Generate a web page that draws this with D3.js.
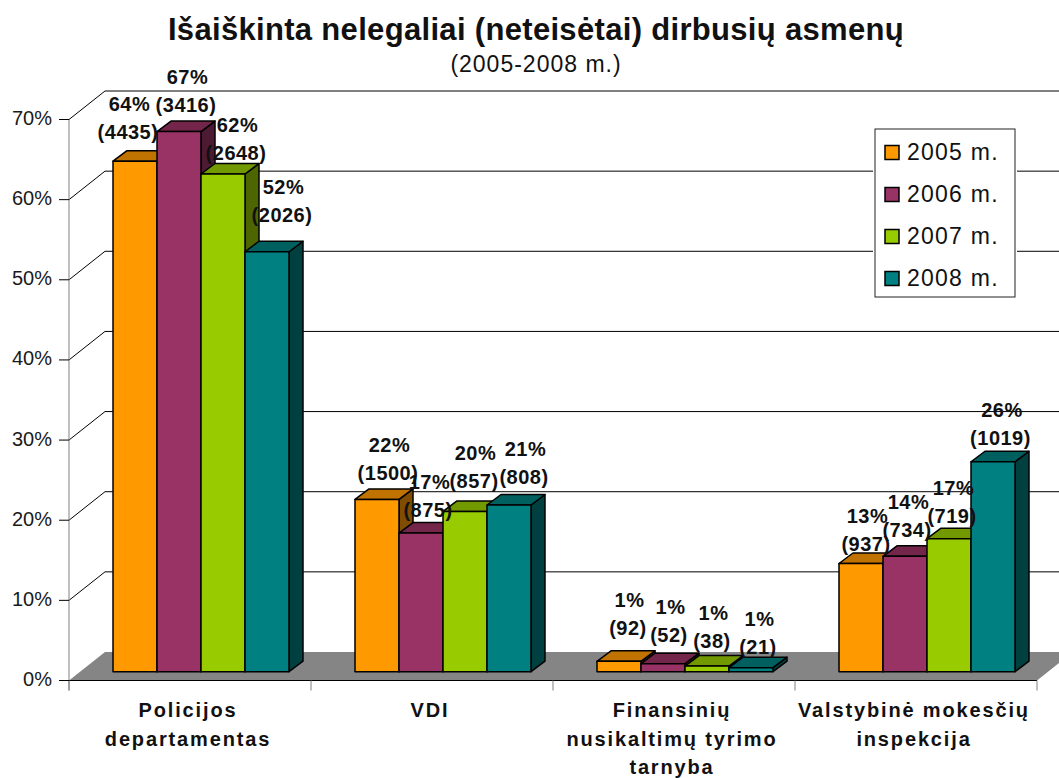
<!DOCTYPE html>
<html><head><meta charset="utf-8">
<style>html,body{margin:0;background:#fff;overflow:hidden}svg{display:block;font-family:"Liberation Sans",Arial,sans-serif}</style>
<script src="https://cdn.jsdelivr.net/npm/d3@7"></script></head><body>
<script>
const categories = [["Policijos","departamentas"],["VDI"],["Finansinių","nusikaltimų tyrimo","tarnyba"],["Valstybinė mokesčių","inspekcija"]];
const seriesNames = ["2005 m.","2006 m.","2007 m.","2008 m."];
const pct = [[63.7,67.4,62.1,52.4],[21.5,17.3,20.0,20.8],[1.3,1.0,0.7,0.5],[13.5,14.4,16.6,26.2]];
const pctLabels = [["64%","67%","62%","52%"],["22%","17%","20%","21%"],["1%","1%","1%","1%"],["13%","14%","17%","26%"]];
const countLabels = [["(4435)","(3416)","(2648)","(2026)"],["(1500)","(875)","(857)","(808)"],["(92)","(52)","(38)","(21)"],["(937)","(734)","(719)","(1019)"]];
const yTicks = [0,10,20,30,40,50,60,70];
// label placement nudges from each bar's top centre
const nudgeX = [[-7,7,13,15],[11,7,9,15],[9,6,5,7],[5,2,3,7.5]];
const nudgeY = [[-22,-20,-14,-30],[-19,-16,-23,-21],[-26,-22,-18,-14],[-13,-19,-16,-17]];
const colors = ["#FF9900","#993366","#99CC00","#008080"];
const topColors = ["#C07300","#732649","#739900","#006060"];
const sideColors = ["#804D00","#4D1A33","#4D6600","#004040"];

const W=1059,H=778,x0=69,x1=1037,y0=680.5,yTop=119.5;
const depthX=36,depthY=28.5, barDX=14,barDY=10.5;
const barBaseY=671.7;
const svg=d3.select("body").append("svg").attr("width",W).attr("height",H);
const y=d3.scaleLinear().domain([0,70]).range([y0,yTop]);
const xBand=d3.scaleBand().domain(d3.range(categories.length)).range([x0,x1]);
const barH=v=>y(0)-y(v);
const inner=d3.scaleBand().domain(d3.range(4)).range([44,220]);

svg.append("path").attr("fill","#858585")
 .attr("d",d3.line()([[x0,y0],[x0+depthX,y0-depthY],[x1+depthX,y0-depthY],[x1,y0]])+"Z");
const g=svg.append("g").attr("fill","none").attr("stroke","#000").attr("stroke-width",1);
yTicks.filter(t=>t>0).forEach(t=>{
  g.append("line").attr("x1",x0+depthX).attr("x2",W).attr("y1",y(t)-depthY).attr("y2",y(t)-depthY);
  g.append("line").attr("x1",x0).attr("x2",x0+depthX).attr("y1",y(t)).attr("y2",y(t)-depthY);
});
pct.forEach((row,c)=>{
  row.forEach((v,s)=>{
    const l=xBand(c)+inner(s), w=inner.bandwidth(), b=barBaseY, t=b-barH(v);
    const gb=svg.append("g").attr("stroke","#000").attr("stroke-width",1.5).attr("stroke-linejoin","round");
    gb.append("path").attr("fill",sideColors[s]).attr("d",d3.line()([[l+w,b],[l+w+barDX,b-barDY],[l+w+barDX,t-barDY],[l+w,t]])+"Z");
    gb.append("path").attr("fill",topColors[s]).attr("d",d3.line()([[l,t],[l+barDX,t-barDY],[l+w+barDX,t-barDY],[l+w,t]])+"Z");
    gb.append("rect").attr("x",l).attr("y",t).attr("width",w).attr("height",b-t).attr("fill",colors[s]);
  });
});
const ax=svg.append("g");
ax.append("line").attr("x1",x0).attr("x2",x0).attr("y1",yTop).attr("y2",y0+10).attr("stroke","#808080").attr("stroke-width",1);
ax.append("line").attr("x1",x0).attr("x2",x1).attr("y1",y0).attr("y2",y0).attr("stroke","#000").attr("stroke-width",1);
d3.range(categories.length+1).forEach(i=>{
  const px=i<categories.length?xBand(i):x1;
  ax.append("line").attr("x1",px).attr("x2",px).attr("y1",y0).attr("y2",y0+10).attr("stroke","#808080");
});
yTicks.forEach(t=>{
  ax.append("line").attr("x1",x0-10).attr("x2",x0).attr("y1",y(t)).attr("y2",y(t)).attr("stroke","#000");
  ax.append("text").attr("x",x0-17).attr("y",y(t)+5.5).attr("text-anchor","end").attr("font-size",20).attr("fill","#1a1a1a").text(t+"%");
});
categories.forEach((lines,c)=>{
  const cx=xBand(c)+xBand.bandwidth()/2-2;
  lines.forEach((ln,i)=>{
    svg.append("text").attr("x",cx).attr("y",717+i*28.5).attr("text-anchor","middle")
      .attr("font-size",20).attr("font-weight","bold").attr("letter-spacing",1.85).attr("fill","#111").text(ln);
  });
});
pct.forEach((row,c)=>{
  row.forEach((v,s)=>{
    const cx=xBand(c)+inner(s)+inner.bandwidth()/2+nudgeX[c][s];
    const base=barBaseY-barH(v)+nudgeY[c][s];
    svg.append("text").attr("x",cx+1.5).attr("y",base-28).attr("text-anchor","middle").attr("font-size",20).attr("font-weight","bold").attr("letter-spacing",0.5).attr("fill","#111").text(pctLabels[c][s]);
    svg.append("text").attr("x",cx).attr("y",base).attr("text-anchor","middle").attr("font-size",20).attr("font-weight","bold").attr("letter-spacing",0.5).attr("fill","#111").text(countLabels[c][s]);
  });
});
const lg=svg.append("g");
lg.append("rect").attr("x",873).attr("y",127).attr("width",144).attr("height",172).attr("fill","#fff");
lg.append("rect").attr("x",875).attr("y",129).attr("width",140).attr("height",168).attr("fill","#fff").attr("stroke","#222").attr("stroke-width",1);
seriesNames.forEach((n,i)=>{
  const yy=145.5+i*42;
  lg.append("rect").attr("x",885).attr("y",yy).attr("width",14).attr("height",14).attr("fill",colors[i]).attr("stroke","#000").attr("stroke-width",1.5);
  lg.append("text").attr("x",907).attr("y",yy+14).attr("font-size",23).attr("letter-spacing",1.25).attr("fill","#111").text(n);
});
svg.append("text").attr("x",536).attr("y",39.5).attr("text-anchor","middle").attr("font-size",31).attr("font-weight","bold").attr("letter-spacing",0.32).attr("fill","#111").text("Išaiškinta nelegaliai (neteisėtai) dirbusių asmenų");
svg.append("text").attr("x",536).attr("y",72).attr("text-anchor","middle").attr("font-size",23).attr("letter-spacing",1).attr("fill","#111").text("(2005-2008 m.)");
</script></body></html>
